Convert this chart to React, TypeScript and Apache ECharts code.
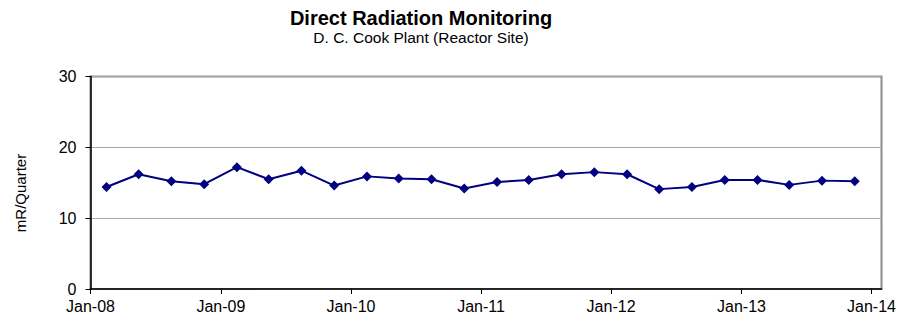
import React, { useEffect, useRef } from "react";
import * as echarts from "echarts";

const dates: string[] = [
  "2008-02-15", "2008-05-15", "2008-08-15", "2008-11-15",
  "2009-02-15", "2009-05-15", "2009-08-15", "2009-11-15",
  "2010-02-15", "2010-05-15", "2010-08-15", "2010-11-15",
  "2011-02-15", "2011-05-15", "2011-08-15", "2011-11-15",
  "2012-02-15", "2012-05-15", "2012-08-15", "2012-11-15",
  "2013-02-15", "2013-05-15", "2013-08-15", "2013-11-15",
];
const doses: number[] = [
  14.4, 16.2, 15.2, 14.8,
  17.2, 15.5, 16.7, 14.6,
  15.9, 15.6, 15.5, 14.2,
  15.1, 15.4, 16.2, 16.5,
  16.2, 14.1, 14.4, 15.4,
  15.4, 14.7, 15.3, 15.2,
];
const tickDates: string[] = [
  "2008-01-01", "2009-01-01", "2010-01-01", "2011-01-01",
  "2012-01-01", "2013-01-01", "2014-01-01",
];
const tickLabels: string[] = ["Jan-08", "Jan-09", "Jan-10", "Jan-11", "Jan-12", "Jan-13", "Jan-14"];
const xMinDate = "2008-01-01";
const xMaxDate = "2014-01-29";
const yTicks: number[] = [0, 10, 20, 30];

const DAY = 86400000;
const dayNum = (s: string) => {
  const [y, m, d] = s.split("-").map(Number);
  return Date.UTC(y, m - 1, d) / DAY;
};

export default function App() {
  const ref = useRef<HTMLDivElement>(null);
  useEffect(() => {
    if (!ref.current) return;
    const chart = echarts.init(ref.current, null, { renderer: "svg" });
    const tickDays = tickDates.map(dayNum);
    const font = "'Liberation Sans', Arial, sans-serif";
    chart.setOption({
      animation: false,
      backgroundColor: "#ffffff",
      title: {
        text: "Direct Radiation Monitoring",
        subtext: "D. C. Cook Plant (Reactor Site)",
        left: 416,
        top: 3,
        textAlign: "center",
        itemGap: 1,
        textStyle: { fontFamily: font, fontSize: 20, fontWeight: "bold", color: "#000" },
        subtextStyle: { fontFamily: font, fontSize: 15.5, color: "#000" },
      },
      grid: {
        left: 90.5,
        right: 24.5,
        top: 76.5,
        bottom: 32,
        show: true,
        borderColor: "#8c8c8c",
        borderWidth: 2,
        backgroundColor: "transparent",
      },
      graphic: [
        {
          type: "text",
          x: 20,
          y: 193,
          rotation: Math.PI / 2,
          style: {
            text: "mR/Quarter",
            fontFamily: font,
            fontSize: 15,
            fill: "#000",
            textAlign: "center",
            textVerticalAlign: "middle",
          },
        },
      ],
      xAxis: {
        type: "value",
        min: dayNum(xMinDate),
        max: dayNum(xMaxDate),
        axisLine: { show: true, onZero: false, lineStyle: { color: "#000", width: 1.5 } },
        axisTick: { show: true, inside: false, length: 5, customValues: tickDays, lineStyle: { color: "#000" } },
        axisLabel: {
          customValues: tickDays,
          margin: 9,
          fontFamily: font,
          fontSize: 16,
          color: "#000",
          hideOverlap: false,
          formatter: (v: number) => {
            const i = tickDays.indexOf(v);
            return i >= 0 ? tickLabels[i] : "";
          },
        },
        splitLine: { show: false },
      },
      yAxis: {
        type: "value",
        min: yTicks[0],
        max: yTicks[yTicks.length - 1],
        interval: 10,
        axisLine: { show: true, lineStyle: { color: "#000", width: 1.5 } },
        axisTick: { show: true, inside: false, length: 5, lineStyle: { color: "#000" } },
        axisLabel: { margin: 14, fontFamily: font, fontSize: 16, color: "#000" },
        splitLine: { show: true, lineStyle: { color: "#a6a6a6", width: 1 } },
      },
      series: [
        {
          type: "line",
          data: dates.map((d, i) => [dayNum(d), doses[i]]),
          symbol: "diamond",
          symbolSize: [10, 10],
          lineStyle: { color: "#000080", width: 2 },
          itemStyle: { color: "#000080" },
          z: 5,
        },
      ],
    });
    return () => chart.dispose();
  }, []);
  return (
    <div
      ref={ref}
      style={{ position: "fixed", left: 0, top: 0, width: 906, height: 321, background: "#fff" }}
    />
  );
}
